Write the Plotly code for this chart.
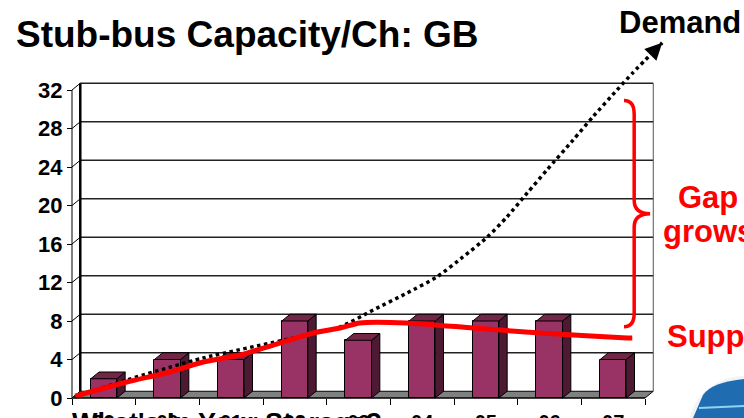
import plotly.graph_objects as go

# ---------------- data ----------------
categories = ["99", "00", "01", "02", "03", "04", "05", "06", "07"]
capacity_gb = [2, 4, 4, 8, 6, 8, 8, 8, 4]

demand_x = [0.05, 0.86, 2.06, 3.47, 4.21, 4.73, 5.26, 5.73, 6.14, 6.52, 6.83,
            7.15, 7.46, 7.87, 8.18, 8.56, 8.81, 9.27]
demand_y = [0.1, 1.87, 4.16, 6.23, 7.38, 9.14, 10.9, 12.57, 14.65, 16.7, 18.8,
            21.3, 23.7, 26.8, 29.2, 32.0, 33.8, 36.9]

supply_x = [0.05, 0.86, 1.54, 2.06, 2.64, 3.16, 3.79, 4.21, 4.52, 5.26, 6.3,
            7.35, 8.72, 8.8]
supply_y = [0.2, 1.66, 2.7, 3.74, 4.47, 5.5, 6.75, 7.27, 7.8, 7.8, 7.27,
            6.75, 6.23, 6.23]

y_ticks = [0, 4, 8, 12, 16, 20, 24, 28, 32]
gap_top = 30.9
gap_bottom = 7.4

title_text = "Stub-bus Capacity/Ch: GB"
bottom_text = "What's In Your Storage?"

# ---------------- geometry / styles ----------------
W, H = 744, 418
PX0, PXU = 72.0, 63.667   # pixel of x=0, pixels per category
PY0, PYU = 398.0, 9.625   # pixel of y=0, pixels per GB
DX, DY = 0.13, 0.70       # 3-D depth offset (data units)
BAR_HW = 0.205            # half bar width
FONT = "Liberation Sans"
PURPLE = "#993366"
SIDE = "#4d1933"
TOP = "#732646"
RED = "#ff0000"

xr = [-PX0 / PXU, (W - PX0) / PXU]
yr = [-(H - PY0) / PYU, PY0 / PYU]
n = len(categories)
centers = [i + 0.5 for i in range(n)]
ymax = y_ticks[-1]


def px(xp):
    return xp / W


def py(yp):
    return 1 - yp / H


fig = go.Figure()

# front faces of bars
fig.add_trace(go.Bar(x=centers, y=capacity_gb, width=2 * BAR_HW,
                     marker=dict(color=PURPLE, line=dict(color="black", width=1)),
                     hoverinfo="skip", showlegend=False))

# side and top faces
sx, sy, tx, ty = [], [], [], []
for c, v in zip(centers, capacity_gb):
    r = c + BAR_HW
    l = c - BAR_HW
    sx += [r, r + DX, r + DX, r, r, None]
    sy += [0, DY, v + DY, v, 0, None]
    tx += [l, r, r + DX, l + DX, l, None]
    ty += [v, v, v + DY, v + DY, v, None]
fig.add_trace(go.Scatter(x=sx, y=sy, mode="lines", fill="toself", fillcolor=SIDE,
                         line=dict(color="black", width=1), hoverinfo="skip",
                         showlegend=False))
fig.add_trace(go.Scatter(x=tx, y=ty, mode="lines", fill="toself", fillcolor=TOP,
                         line=dict(color="black", width=1), hoverinfo="skip",
                         showlegend=False))

# demand (dotted) and supply (red)
fig.add_trace(go.Scatter(x=demand_x, y=demand_y, mode="lines",
                         line=dict(color="black", width=3.5, dash="dot", shape="spline",
                                   smoothing=0.6),
                         hoverinfo="skip", showlegend=False))
fig.add_trace(go.Scatter(x=supply_x, y=supply_y, mode="lines",
                         line=dict(color=RED, width=5, shape="spline", smoothing=0.6),
                         hoverinfo="skip", showlegend=False))

shapes = []
# floor
shapes.append(dict(type="path", xref="x", yref="y", layer="below",
                   path=f"M 0,0 L {n},0 L {n + DX},{DY} L {DX},{DY} Z",
                   fillcolor="#808080", line=dict(color="black", width=1)))
# back wall grid lines
for v in y_ticks[1:]:
    shapes.append(dict(type="line", xref="x", yref="y", layer="below",
                       x0=DX, x1=n + DX, y0=v + DY, y1=v + DY,
                       line=dict(color="#222222", width=1.3)))
# side-wall connectors at each tick
for v in y_ticks:
    shapes.append(dict(type="line", xref="x", yref="y", layer="below",
                       x0=0, x1=DX, y0=v, y1=v + DY,
                       line=dict(color="black", width=1)))
# front vertical axis line
shapes.append(dict(type="line", xref="x", yref="y", layer="below",
                   x0=0, x1=0, y0=0, y1=ymax, line=dict(color="black", width=1)))
# back wall left edge
shapes.append(dict(type="line", xref="x", yref="y", layer="below",
                   x0=DX, x1=DX, y0=DY, y1=ymax + DY, line=dict(color="black", width=2.5)))
# back wall right edge
shapes.append(dict(type="line", xref="x", yref="y", layer="below",
                   x0=n + DX, x1=n + DX, y0=DY, y1=ymax + DY,
                   line=dict(color="#555555", width=1)))
# front floor edge
shapes.append(dict(type="line", xref="x", yref="y", layer="above",
                   x0=0, x1=n, y0=0, y1=0, line=dict(color="black", width=1.2)))

# gap brace
xl, xs, xt = n - 0.33, n - 0.17, n + 0.08
rr = 1.4
ym = (gap_top + gap_bottom) / 2
brace = (f"M {xl},{gap_top} Q {xs},{gap_top} {xs},{gap_top - rr} "
         f"L {xs},{ym + rr} Q {xs},{ym} {xt},{ym} "
         f"Q {xs},{ym} {xs},{ym - rr} L {xs},{gap_bottom + rr} "
         f"Q {xs},{gap_bottom} {xl},{gap_bottom}")
shapes.append(dict(type="path", xref="x", yref="y", path=brace,
                   line=dict(color=RED, width=3.5)))

# logo fragment bottom-right (decoration)
shapes.append(dict(type="circle", xref="paper", yref="paper", layer="below",
                   x0=px(688), x1=px(800), y0=py(486), y1=py(376),
                   fillcolor="#f1f4f7", line=dict(width=0)))
shapes.append(dict(type="path", xref="paper", yref="paper",
                   path=(f"M {px(703)},{py(395)} Q {px(712)},{py(382)} {px(744)},{py(379)} "
                         f"L {px(744)},{py(418)} L {px(693)},{py(418)} Z"),
                   fillcolor="#1f6db0", line=dict(width=0)))
shapes.append(dict(type="line", xref="paper", yref="paper",
                   x0=px(699), x1=px(744), y0=py(408), y1=py(406),
                   line=dict(color="#8fd3f2", width=2)))

annotations = []
# arrow heads
for xs_, ys_, col, wd in [(demand_x, demand_y, "black", 2.6), (supply_x, supply_y, RED, 3.6)]:
    tipx, tipy = xs_[-1], ys_[-1]
    prx, pry = xs_[-2], ys_[-2]
    annotations.append(dict(x=tipx, y=tipy, xref="x", yref="y",
                            ax=tipx - 0.35 * (tipx - prx), ay=tipy - 0.35 * (tipy - pry),
                            axref="x", ayref="y", text="", showarrow=True,
                            arrowhead=2, arrowsize=1.3, arrowwidth=wd, arrowcolor=col,
                            standoff=0))

annotations += [
    dict(text=f"<b>{title_text}</b>", x=px(14), y=py(12), xref="paper", yref="paper",
         xanchor="left", yanchor="top", showarrow=False,
         font=dict(family=FONT, size=37, color="black")),
    dict(text="<b>Demand</b>", x=px(617), y=py(3), xref="paper", yref="paper",
         xanchor="left", yanchor="top", showarrow=False,
         font=dict(family=FONT, size=31, color="black")),
    dict(text="<b>Gap</b>", x=px(708), y=py(178), xref="paper", yref="paper",
         xanchor="center", yanchor="top", showarrow=False,
         font=dict(family=FONT, size=31, color=RED)),
    dict(text="<b>grows</b>", x=px(708), y=py(212), xref="paper", yref="paper",
         xanchor="center", yanchor="top", showarrow=False,
         font=dict(family=FONT, size=31, color=RED)),
    dict(text="<b>Supply</b>", x=px(665), y=py(317), xref="paper", yref="paper",
         xanchor="left", yanchor="top", showarrow=False,
         font=dict(family=FONT, size=31, color=RED)),
    dict(text=f"<b>{bottom_text}</b>", x=px(70), y=py(406), xref="paper", yref="paper",
         xanchor="left", yanchor="top", showarrow=False,
         font=dict(family=FONT, size=27, color="black")),
]

fig.update_layout(
    width=W, height=H, margin=dict(l=0, r=0, t=0, b=0, autoexpand=False),
    paper_bgcolor="white", plot_bgcolor="white",
    showlegend=False, bargap=0,
    shapes=shapes, annotations=annotations,
    xaxis=dict(range=xr, domain=[0, 1], anchor="free", position=(H - PY0) / H,
               tickmode="array", tickvals=list(range(n + 1)), ticks="outside",
               ticklen=6, tickcolor="black", tickwidth=1, showticklabels=False,
               showgrid=False, zeroline=False, showline=False, fixedrange=True,
               automargin=False),
    xaxis2=dict(range=xr, overlaying="x", anchor="free", position=(H - PY0) / H,
                side="bottom", tickmode="array", tickvals=centers, ticktext=categories,
                ticks="", ticklabelstandoff=10, automargin=False,
                tickfont=dict(family=FONT, size=20, color="black", weight="bold"),
                showgrid=False, zeroline=False, showline=False, fixedrange=True),
    yaxis=dict(range=yr, domain=[0, 1], anchor="free", position=PX0 / W,
               tickmode="array", tickvals=y_ticks, ticks="outside", ticklen=5,
               tickcolor="black", tickwidth=1, automargin=False,
               tickfont=dict(family=FONT, size=22, color="black", weight="bold"),
               showgrid=False, zeroline=False, showline=False, fixedrange=True),
)

# invisible trace to activate xaxis2
fig.add_trace(go.Scatter(x=[centers[0]], y=[0], xaxis="x2", mode="markers",
                         marker=dict(opacity=0), hoverinfo="skip", showlegend=False))

fig.write_html("out.html")
